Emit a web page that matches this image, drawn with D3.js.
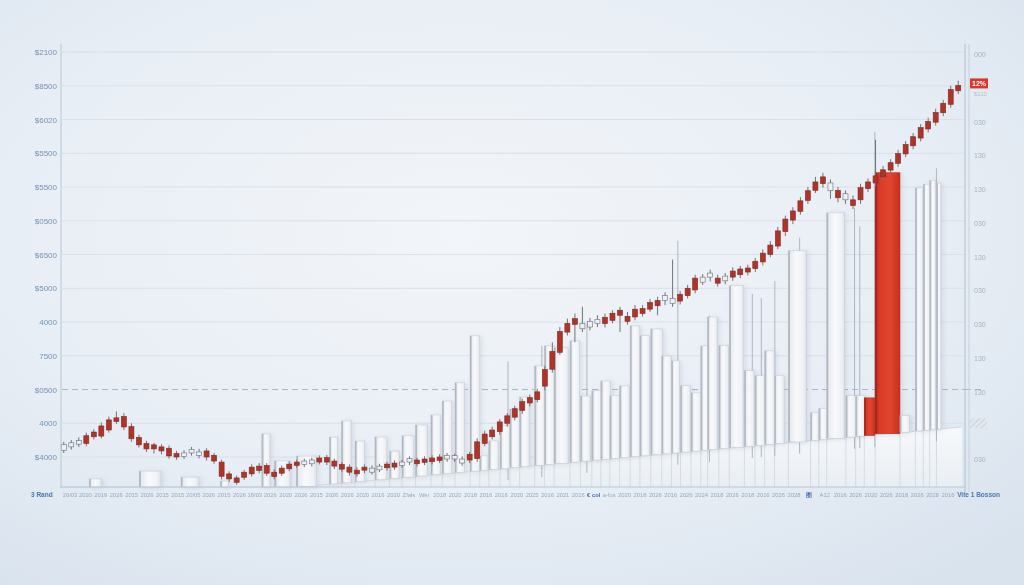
<!DOCTYPE html>
<html><head><meta charset="utf-8">
<script src="https://cdn.jsdelivr.net/npm/d3@7"></script>
<style>html,body{margin:0;padding:0;overflow:hidden;background:#e6edf4}</style>
</head><body><svg id="c" width="1024" height="585"></svg>
<script>
// ---------- DATA ----------
const leftTickValues = [0,1,2,3,4,5,6,7,8,9,10,11,12];
const leftTickLabels = ["$4000","4000","$0500","7500","4000","$5000","$6500","$0500","$5500","$5500","$6020","$8500","$2100"];
const rightTickValues = [0,2,3,4,5,6,7,8,9,10,12];
const rightTickLabels = ["030","130","130","030","030","130","030","130","130","030","000"];
const lastTag = "12%";
const lastTagSub = "$110";
const bottomLabels = ["20/03","2020","2019","2026","2015","2026","2015","2015","20/05","2026","2015","2026","18/03","2026","2020","2026","2015","2026","2026","2020","2016","2020","Zfals","Wer","2018","2020","2018","2016","2016","2020","2025","2016","2021","2016","€ col","a-fus","2020","2018","2026","2016","2026","2024","2018","2026","2018","2016","2026","2028","图","A12","2016","2026","2020","2026","2018","2026","2028","2016"];
const boldLabels = ["€ col","图"];
const startLabel = "3 Rand";
const endLabel = "Vite 1 Bosson";

const closes = [0.37,0.42,0.49,0.63,0.74,0.92,1.10,1.16,0.89,0.54,
0.36,0.24,0.24,0.18,0.03,0.00,0.12,0.12,0.15,0.00,
-0.12,-0.57,-0.65,-0.62,-0.45,-0.30,-0.27,-0.48,-0.45,-0.33,
-0.21,-0.15,-0.12,-0.09,-0.03,-0.15,-0.27,-0.36,-0.45,-0.39,
-0.39,-0.33,-0.27,-0.21,-0.18,-0.15,-0.15,-0.09,-0.06,-0.03,
0.00,-0.06,-0.06,-0.06,-0.09,0.45,0.68,0.80,1.04,1.22,
1.43,1.64,1.76,1.93,2.59,3.13,3.72,3.96,3.93,3.96,
4.02,4.08,4.14,4.26,4.20,4.17,4.38,4.40,4.58,4.64,
4.64,4.70,4.82,5.00,5.30,5.33,5.33,5.30,5.36,5.51,
5.57,5.60,5.80,6.04,6.28,6.70,7.05,7.29,7.59,7.89,
8.15,8.10,7.89,7.68,7.62,7.62,7.98,8.15,8.33,8.51,
8.72,8.99,9.26,9.49,9.76,9.94,10.21,10.48,10.89,11.01];
const opens = [0.20,0.30,0.38,0.40,0.60,0.62,0.80,1.05,1.20,0.90,
0.58,0.40,0.36,0.30,0.26,0.10,0.02,0.22,0.05,0.18,
0.05,-0.15,-0.50,-0.75,-0.60,-0.50,-0.40,-0.25,-0.58,-0.48,
-0.35,-0.25,-0.22,-0.20,-0.15,-0.02,-0.12,-0.22,-0.30,-0.50,
-0.30,-0.45,-0.38,-0.32,-0.30,-0.25,-0.05,-0.20,-0.16,-0.14,
-0.10,0.05,0.04,-0.18,0.08,-0.05,0.40,0.60,0.75,1.00,
1.18,1.38,1.60,1.70,2.10,2.60,3.10,3.70,4.10,3.80,
3.85,3.95,3.95,4.05,4.35,4.02,4.15,4.25,4.38,4.48,
4.78,4.55,4.62,4.78,4.95,5.18,5.45,5.15,5.22,5.33,
5.40,5.48,5.58,5.78,6.00,6.25,6.68,7.02,7.28,7.60,
7.90,8.30,8.12,7.90,7.80,7.45,7.62,7.95,8.12,8.30,
8.50,8.70,8.98,9.22,9.45,9.72,9.92,10.20,10.45,10.85];
const highs = [0.45,0.50,0.58,0.72,0.82,1.02,1.20,1.35,1.30,1.00,
0.66,0.48,0.42,0.38,0.34,0.18,0.20,0.30,0.24,0.26,
0.12,-0.08,-0.42,-0.55,-0.38,-0.22,-0.18,-0.18,-0.36,-0.25,
-0.12,-0.08,-0.05,-0.02,0.05,0.06,-0.05,-0.15,-0.22,-0.30,
-0.22,-0.25,-0.20,-0.14,-0.10,-0.08,0.02,-0.02,0.02,0.05,
0.08,0.12,0.10,0.02,0.15,0.55,0.78,0.90,1.12,1.30,
1.52,1.72,1.85,2.02,2.70,3.40,3.85,4.10,4.25,4.45,
4.12,4.20,4.25,4.35,4.45,4.30,4.50,4.50,4.68,4.75,
4.88,5.85,4.92,5.10,5.40,5.42,5.55,5.40,5.45,5.62,
5.66,5.70,5.90,6.15,6.40,6.82,7.15,7.40,7.70,8.00,
8.30,8.42,8.22,8.00,7.90,7.75,8.10,8.25,9.40,8.62,
8.82,9.10,9.36,9.60,9.86,10.05,10.32,10.58,11.00,11.15];
const lows = [0.12,0.22,0.30,0.32,0.52,0.55,0.72,0.98,0.80,0.45,
0.28,0.15,0.10,0.08,-0.05,-0.08,-0.06,0.04,-0.04,-0.10,
-0.20,-0.66,-0.74,-0.82,-0.68,-0.58,-0.48,-0.56,-0.66,-0.56,
-0.42,-0.32,-0.30,-0.28,-0.22,-0.24,-0.36,-0.44,-0.55,-0.58,
-0.48,-0.52,-0.45,-0.40,-0.38,-0.32,-0.24,-0.28,-0.24,-0.22,
-0.18,-0.14,-0.14,-0.26,-0.18,-0.14,0.32,0.52,0.66,0.90,
1.08,1.28,1.50,1.62,1.98,2.50,3.02,3.60,3.40,3.70,
3.75,3.85,3.84,3.96,3.70,3.92,4.05,4.16,4.30,4.20,
4.50,4.45,4.52,4.70,4.85,5.10,5.20,5.05,5.12,5.22,
5.30,5.38,5.48,5.68,5.92,6.16,6.55,6.90,7.18,7.50,
7.82,7.98,7.65,7.55,7.50,7.35,7.50,7.85,8.02,8.20,
8.40,8.60,8.88,9.12,9.35,9.62,9.82,10.10,10.35,10.75];
const hollowCandles = [0,1,2,16,17,18,32,33,41,42,45,46,51,52,53,69,70,71,80,81,85,86,88,102,104];

// volume bars: centre (session index), span (sessions), volume
const volIndex = [4.2,11.5,16.8,21.4,26.9,29.1,32.3,35.9,37.6,39.4,42.2,44.0,45.8,47.6,49.5,51.0,52.7,54.7,55.9,57.2,58.7,60.0,61.3,63.3,64.6,66.2,68.0,69.4,70.9,72.1,73.3,74.6,76.0,77.3,78.9,80.2,81.4,82.7,84.1,85.3,86.3,87.8,89.5,91.2,92.6,93.9,95.2,97.6,99.9,101.0,102.7,104.7,106.0,107.2,109.6,111.9,113.8,114.8,115.6,116.4];
const volSpan = [1.6,2.9,2.4,1.1,1.1,2.1,2.7,1.1,1.3,1.3,1.6,1.3,1.6,1.6,1.3,1.3,1.3,1.3,1.1,1.3,1.3,1.3,1.3,1.3,1.3,1.9,1.3,1.3,1.3,1.3,1.3,1.3,1.3,1.3,1.6,1.3,1.1,1.3,1.3,1.1,1.3,1.3,1.9,1.3,1.3,1.3,1.3,2.4,1.1,1.1,2.4,1.3,1.3,1.4,3.3,1.3,1.0,0.9,0.8,0.6];
const volValue = [2.7,5.3,3.3,2,17.7,8.7,10.1,15.6,20.6,13.5,14.2,9.1,13.8,17,19.9,24.2,29.9,45.1,4.8,9.5,14.2,19.5,23.2,33.1,39.5,38.5,40.4,21.7,23.1,26.1,20.9,23.9,43.6,40,41.9,32.6,30.7,22.1,19.4,34.8,44.2,34.3,53.9,25.2,23.2,31.2,22.6,63.7,9.2,10.3,75.2,13.8,13.5,12.5,87,5.5,81,82,83,82];
const volHighlight = [107.2,109.6];
// thin spikes (session index, volume)
const spikeIndex = [59.1,63.6,69.6,81.7,85.9,91.6,92.8,94.6,97.9,105.2,105.9,107.9,116.1];
const spikeValue = [35.6,39.7,45.7,70.7,44.7,50.7,49,54.3,68,76.3,70,101,87];
// sloped floor under the volume bars
const floorIdx = [-0.5,31.4,119.5];
const floorVol = [0,0,20];

// ---------- DRAW ----------
const svg = d3.select("#c");
const defs = svg.append("defs");
const bg = defs.append("radialGradient").attr("id","bg").attr("cx","45%").attr("cy","40%").attr("r","75%");
bg.append("stop").attr("offset","0%").attr("stop-color","#f2f5f9");
bg.append("stop").attr("offset","60%").attr("stop-color","#e8eef5");
bg.append("stop").attr("offset","100%").attr("stop-color","#d9e3ee");
const gb = defs.append("linearGradient").attr("id","barG");
[["0%","#bfc6ce"],["10%","#e8ebef"],["45%","#f8f9fb"],["85%","#eef1f4"],["100%","#d8dde3"]].forEach(s=>gb.append("stop").attr("offset",s[0]).attr("stop-color",s[1]));
const gr = defs.append("linearGradient").attr("id","redG");
[["0%","#a82416"],["15%","#d83a27"],["60%","#e2452f"],["100%","#c5301e"]].forEach(s=>gr.append("stop").attr("offset",s[0]).attr("stop-color",s[1]));
const fl = defs.append("linearGradient").attr("id","floorG").attr("x1","0").attr("y1","0").attr("x2","0").attr("y2","1");
fl.append("stop").attr("offset","0%").attr("stop-color","#f7f9fb");
fl.append("stop").attr("offset","100%").attr("stop-color","#e9eef3");
const sh = defs.append("filter").attr("id","sh").attr("x","-20%").attr("y","-10%").attr("width","160%").attr("height","130%");
sh.append("feDropShadow").attr("dx",2).attr("dy",1).attr("stdDeviation",2).attr("flood-color","#8094aa").attr("flood-opacity",0.2);
const hatch = defs.append("pattern").attr("id","hatch").attr("width",4).attr("height",4).attr("patternUnits","userSpaceOnUse").attr("patternTransform","rotate(45)");
hatch.append("rect").attr("width",4).attr("height",4).attr("fill","#e3e8ee");
hatch.append("line").attr("x1",0).attr("y1",0).attr("x2",0).attr("y2",4).attr("stroke","#c9d1da").attr("stroke-width",2);

svg.append("rect").attr("width",1024).attr("height",585).attr("fill","url(#bg)");

const x = d3.scaleLinear([-0.5,119.5],[60,962]);
const y = d3.scaleLinear([0,12],[457,52]);
const vH = d3.scaleLinear([0,100],[0,300]);
const floorS = d3.scaleLinear(floorIdx, floorVol);
const baseY = 487;

// gridlines
svg.append("g").selectAll("line").data(leftTickValues).join("line")
  .attr("x1",62).attr("x2",965).attr("y1",d=>y(d)).attr("y2",d=>y(d))
  .attr("stroke", d=>d===2?"#aab6c3":"#d8e0e9").attr("stroke-width",1)
  .attr("stroke-dasharray", d=>d===2?"6,4":null);
svg.append("line").attr("x1",965).attr("x2",985).attr("y1",y(2)).attr("y2",y(2)).attr("stroke","#aab6c3").attr("stroke-dasharray","6,4");

// floor wedge
const fpts = d3.range(-0.5,120,1).map(i=>[x(i), baseY - vH(floorS(i))]);
svg.append("path").attr("d", d3.line()([...fpts,[x(119.5),baseY],[x(-0.5),baseY]])+"Z").attr("fill","url(#floorG)");
svg.append("path").attr("d", d3.line()(fpts)).attr("fill","none").attr("stroke","#d2dae3").attr("stroke-width",1);

const bars = volIndex.map((c,i)=>({c, s:volSpan[i], v:volValue[i], red: volHighlight.includes(c)}));
svg.append("g").selectAll("line").data(bars).join("line")
  .attr("x1",d=>x(d.c - d.s/2)).attr("x2",d=>x(d.c - d.s/2))
  .attr("y1",d=>baseY - vH(floorS(d.c))).attr("y2",baseY)
  .attr("stroke","#cdd6e0").attr("stroke-width",0.8);

// spikes
svg.append("g").selectAll("line").data(spikeIndex).join("line")
  .attr("x1",d=>x(d)).attr("x2",d=>x(d))
  .attr("y1",(d,i)=>baseY - vH(floorS(d)+spikeValue[i])).attr("y2",d=>baseY - vH(floorS(d)) + 12)
  .attr("stroke","#adb6c0").attr("stroke-width",1);

// volume bars
const vg = svg.append("g").attr("filter","url(#sh)");
const bsel = vg.selectAll("g").data(bars).join("g");
bsel.append("rect")
  .attr("x",d=>x(d.c - d.s/2)).attr("width",d=>x(d.c + d.s/2)-x(d.c - d.s/2))
  .attr("y",d=>baseY - vH(floorS(d.c)+d.v)).attr("height",d=>vH(d.v))
  .attr("fill",d=>d.red?"url(#redG)":"url(#barG)")
  .attr("stroke",d=>d.red?"#b52c1c":"#c8cfd7").attr("stroke-width",0.6);
bsel.append("rect")
  .attr("x",d=>x(d.c - d.s/2)).attr("width",1.6)
  .attr("y",d=>baseY - vH(floorS(d.c)+d.v)).attr("height",d=>vH(d.v))
  .attr("fill",d=>d.red?"#9c2214":"#a3acb7").attr("opacity",0.75);

// candles
const candles = closes.map((c,i)=>({i, o:opens[i], c, h:highs[i], l:lows[i], hollow: hollowCandles.includes(i)}));
const cg = svg.append("g");
cg.selectAll("line").data(candles).join("line")
  .attr("x1",d=>x(d.i)).attr("x2",d=>x(d.i)).attr("y1",d=>y(d.h)).attr("y2",d=>y(d.l))
  .attr("stroke","#6d737c").attr("stroke-width",1);
cg.selectAll("rect").data(candles).join("rect")
  .attr("x",d=>x(d.i)-2.5).attr("width",5)
  .attr("y",d=>y(Math.max(d.o,d.c))).attr("height",d=>Math.max(2,Math.abs(y(d.o)-y(d.c))))
  .attr("fill",d=>d.hollow?"#eef0f3":"#ad3429")
  .attr("stroke",d=>d.hollow?"#6b717a":"#862820").attr("stroke-width",0.6);

// axes lines
svg.append("line").attr("x1",61).attr("x2",61).attr("y1",44).attr("y2",baseY).attr("stroke","#b9c7d6");
svg.append("line").attr("x1",60).attr("x2",966).attr("y1",baseY).attr("y2",baseY).attr("stroke","#b9c7d6");
svg.append("line").attr("x1",965).attr("x2",965).attr("y1",44).attr("y2",492).attr("stroke","#b3c1d0");
svg.append("line").attr("x1",969).attr("x2",969).attr("y1",44).attr("y2",492).attr("stroke","#c6d1dd");

// left labels
svg.append("g").selectAll("text").data(leftTickValues).join("text")
  .attr("x",57).attr("y",d=>y(d)+3).attr("text-anchor","end")
  .attr("font-family","Liberation Sans, Arial, sans-serif").attr("font-size",8).attr("fill","#7592b5")
  .text((d,i)=>leftTickLabels[i]);
// right labels
svg.append("g").selectAll("text").data(rightTickValues).join("text")
  .attr("x",974).attr("y",d=>y(d)+5).attr("font-family","Liberation Sans, Arial, sans-serif")
  .attr("font-size",7).attr("fill","#a3b4c6").text((d,i)=>rightTickLabels[i]);
svg.append("rect").attr("x",970).attr("y",y(closes[closes.length-1])-7).attr("width",18).attr("height",10).attr("fill","#d8372a");
svg.append("text").attr("x",979).attr("y",y(closes[closes.length-1])+0.5).attr("text-anchor","middle")
  .attr("font-family","Liberation Sans, Arial, sans-serif").attr("font-size",7).attr("font-weight","bold").attr("fill","#fff").text(lastTag);
svg.append("text").attr("x",974).attr("y",y(closes[closes.length-1])+11).attr("font-family","Liberation Sans, Arial, sans-serif")
  .attr("font-size",6).attr("fill","#b3c1cf").text(lastTagSub);
svg.append("rect").attr("x",970).attr("y",y(1)-5).attr("width",17).attr("height",10).attr("fill","url(#hatch)");

// bottom labels
const bx = d3.scalePoint(bottomLabels.map((d,i)=>i),[70,948]);
svg.append("g").selectAll("text").data(bottomLabels).join("text")
  .attr("x",(d,i)=>bx(i)).attr("y",497).attr("text-anchor","middle")
  .attr("font-family","Liberation Sans, Arial, sans-serif").attr("font-size",5.8)
  .attr("font-weight",d=>boldLabels.includes(d)?"bold":"normal")
  .attr("fill",d=>boldLabels.includes(d)?"#3f6fb0":"#94a8bf").text(d=>d);
svg.append("text").attr("x",31).attr("y",497).attr("font-family","Liberation Sans, Arial, sans-serif")
  .attr("font-size",6.5).attr("font-weight","bold").attr("fill","#4a76b2").text(startLabel);
svg.append("text").attr("x",1000).attr("y",497).attr("text-anchor","end").attr("font-family","Liberation Sans, Arial, sans-serif")
  .attr("font-size",6.5).attr("font-weight","bold").attr("fill","#4a76b2").text(endLabel);
</script></body></html>
